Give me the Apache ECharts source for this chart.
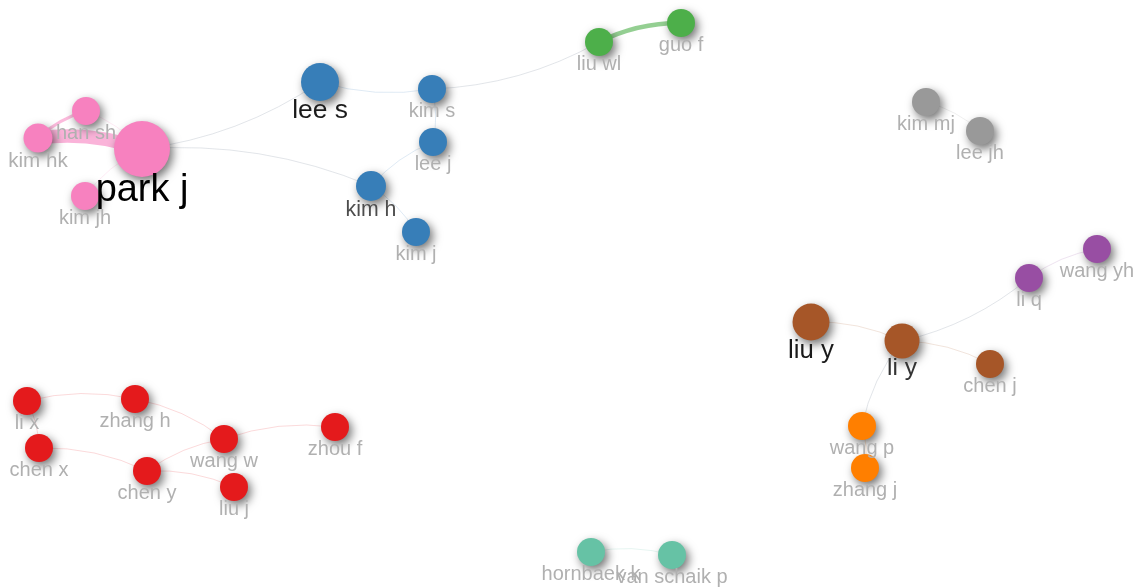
<!DOCTYPE html>
<html>
<head>
<meta charset="utf-8">
<script src="https://cdn.jsdelivr.net/npm/echarts@6/dist/echarts.min.js"></script>
<style>
html,body{margin:0;padding:0;background:#fff;}
#chart{width:1138px;height:588px;}
</style>
</head>
<body>
<div id="chart"></div>
<script>
// ---- data ----
const nodeNames = ['park j','kim hk','han sh','kim jh','lee s','kim s','lee j','kim h','kim j',
  'liu wl','guo f','kim mj','lee jh','wang yh','li q','liu y','li y','chen j','wang p','zhang j',
  'li x','zhang h','chen x','wang w','zhou f','chen y','liu j','hornbaek k','van schaik p'];
const nodeX = [142,38,86,85,320,432,433,371,416, 599,681,926,980,1097,1029,811,902,990,862,865,
  27,135,39,224,335,147,234,591,672];
const nodeY = [149,138,111,196,82,89,142,186,232, 42,23,102,131,249,278,322,341,364,426,468,
  401,399,448,439,427,471,487,552,555];
const nodeWeight = [29,2,1,1,11,1,1,3,1, 1,1,1,1,1,1,10,8,1,1,1, 1,1,1,1,1,1,1,1,1];
const nodeCluster = [0,0,0,0,1,1,1,1,1, 2,2,3,3,4,4,5,5,5,6,6, 7,7,7,7,7,7,7,8,8];
const clusterColors = ['#f781bf','#377eb8','#4daf4a','#999999','#984ea3','#a65628','#ff7f00','#e41a1c','#66c2a5'];

const linkSource = [4,0,5,9,9,1,1,2,3,5,7,7,11,14,14,15,16,18,18,20,20,21,23,22,25,25,27];
const linkTarget = [0,7,4,5,10,2,0,0,0,6,6,8,12,13,16,16,17,16,19,21,22,23,24,25,23,26,28];
const linkWeight = [1,1,1,1,3,2,8,1,1,1,1,1,1,1,1,1,1,1,1,1,1,1,1,1,1,1,1];

// ---- build ----
function hexToRgba(hex, a){
  const n = parseInt(hex.slice(1),16);
  return 'rgba(' + ((n>>16)&255) + ',' + ((n>>8)&255) + ',' + (n&255) + ',' + a + ')';
}
function labelColor(w){
  if (w >= 25) return '#000000';
  if (w >= 10) return '#1a1a1a';
  if (w >= 9) return '#222222';
  if (w >= 6) return '#333333';
  if (w >= 3) return '#4d4d4d';
  return '#b0b0b0';
}
const nodes = nodeNames.map((name, i) => {
  const w = nodeWeight[i];
  const fs = 20 + 0.64 * (w - 1);
  return {
    name: name,
    value: [nodeX[i], nodeY[i]],
    symbolSize: 28 + 1.0 * (w - 1),
    itemStyle: { color: clusterColors[nodeCluster[i]] },
    label: {
      show: true, position: 'bottom', distance: -0.22 * fs + 3,
      fontSize: fs, color: labelColor(w),
      fontFamily: 'Arial, "Liberation Sans", sans-serif'
    }
  };
});
const links = linkSource.map((s, i) => {
  const t = linkTarget[i];
  const w = linkWeight[i];
  const same = nodeCluster[s] === nodeCluster[t];
  const base = same ? clusterColors[nodeCluster[s]] : '#a0a8b6';
  const alpha = w >= 3 ? 0.6 : (w >= 2 ? 0.55 : (same ? 0.16 : 0.3));
  return {
    source: s, target: t,
    lineStyle: { width: w >= 2 ? (w >= 5 ? 1.7 * w : 1.5 * w) : 1, color: hexToRgba(base, alpha), curveness: 0.12, opacity: 1 }
  };
});

const chart = echarts.init(document.getElementById('chart'));
chart.setOption({
  backgroundColor: '#ffffff',
  animation: false,
  grid: { left: 0, right: 0, top: 0, bottom: 0 },
  xAxis: { type: 'value', min: 0, max: 1138, show: false },
  yAxis: { type: 'value', min: 0, max: 588, inverse: true, show: false },
  series: [{
    type: 'graph',
    coordinateSystem: 'cartesian2d',
    symbol: 'circle',
    data: nodes,
    links: links,
    lineStyle: { opacity: 1 },
    itemStyle: {
      shadowBlur: 10, shadowColor: 'rgba(0,0,0,0.55)', shadowOffsetX: 3, shadowOffsetY: 4
    },
    emphasis: { disabled: true },
    z: 2
  }]
});
</script>
</body>
</html>
